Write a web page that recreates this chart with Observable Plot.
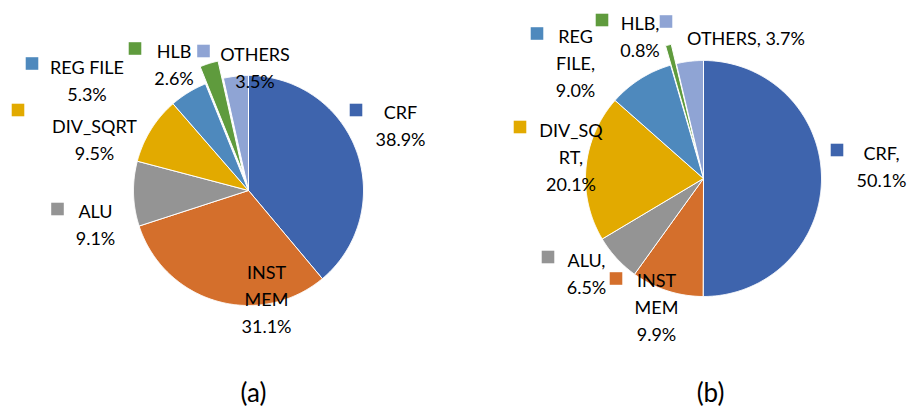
<!DOCTYPE html>
<html><head><meta charset="utf-8">
<script src="https://cdn.jsdelivr.net/npm/d3@7"></script>
<script src="https://cdn.jsdelivr.net/npm/@observablehq/plot@0.6"></script>
<style>body{margin:0;background:#fff;} svg{display:block;}</style>
</head><body><div id="chart"></div>
<script>
// ---- data ----
const categories = ["CRF", "INST MEM", "ALU", "DIV_SQRT", "REG FILE", "HLB", "OTHERS"];
const valuesA = [38.9, 31.1, 9.1, 9.5, 5.3, 2.6, 3.5];
const valuesB = [50.1, 9.9, 6.5, 20.1, 9.0, 0.8, 3.7];
const panelNames = ["(a)", "(b)"];
const explodedCategory = "HLB";

// ---- styles / layout ----
const colors = ["#3E64AD", "#D46F2C", "#949494", "#E2AA00", "#4E89BD", "#5F9B3D", "#8FA4D4"];
const W = 909, H = 410;
const FONT = "Lato, 'Open Sans', sans-serif";
const panels = [
  {name: panelNames[0], values: valuesA, cx: 248, cy: 190, r: 115, explode: 18, sep: "\n", titleX: 253,
   labels: [ // dx,dy of text block centre; sq = legend key offset; breaks = line wrap indices
     {dx: 152, dy: -66.5, sq: [107.5, -80.5], breaks: []},
     {dx: 18, dy: 107, sq: null, breaks: [4]},
     {dx: -153, dy: 32.5, sq: [-191, 18.5], breaks: []},
     {dx: -154, dy: -52.5, sq: [-230.5, -80.5], breaks: []},
     {dx: -161.5, dy: -112, sq: [-216.5, -127], breaks: []},
     {dx: -74.5, dy: -128, sq: [-113.5, -142], breaks: []},
     {dx: 6.5, dy: -125, sq: [-45, -139.5], breaks: []}
   ]},
  {name: panelNames[1], values: valuesB, cx: 703, cy: 178, r: 118, explode: 20, sep: ", ", titleX: 710,
   labels: [
     {dx: 178, dy: -13.5, sq: [133.5, -28.5], breaks: [4]},
     {dx: -47, dy: 127, sq: [-87.5, 100], breaks: [4, 8], sep: " "},
     {dx: -117, dy: 93, sq: [-155.5, 78.5], breaks: [4]},
     {dx: -132.5, dy: -23, sq: [-183.5, -51.5], breaks: [6, 9]},
     {dx: -128, dy: -117, sq: [-166.5, -145], breaks: [3, 9]},
     {dx: -63.5, dy: -143.5, sq: [-101.5, -158.5], breaks: [4]},
     {dx: 42.5, dy: -142, sq: [-37.5, -157], breaks: []}
   ]}
];

function wrap(s, breaks) {
  const out = []; let p = 0;
  for (const b of breaks) { out.push(s.slice(p, b).trim()); p = b; }
  out.push(s.slice(p).trim());
  return out.join("\n");
}

// ---- build slice polygons, labels, keys ----
const slicePts = [], labelRows = [], keyRows = [], titleRows = [];
panels.forEach((P, pi) => {
  const arcs = d3.pie().sort(null).value(d => d)(P.values);
  arcs.forEach((a, i) => {
    const cat = categories[i];
    const mid = (a.startAngle + a.endAngle) / 2;
    const off = cat === explodedCategory ? P.explode : 0;
    const ox = P.cx + off * Math.sin(mid), oy = P.cy - off * Math.cos(mid);
    const key = P.name + cat;
    slicePts.push({key, cat, x: ox, y: oy});
    const n = Math.max(2, Math.ceil((a.endAngle - a.startAngle) / (Math.PI / 360)));
    for (let k = 0; k <= n; k++) {
      const t = a.startAngle + (a.endAngle - a.startAngle) * k / n;
      slicePts.push({key, cat, x: ox + P.r * Math.sin(t), y: oy - P.r * Math.cos(t)});
    }
    slicePts.push({key, cat, x: ox, y: oy});
    const L = P.labels[i];
    const sep = L.sep ?? P.sep;
    const txt = wrap(cat + sep + d3.format(".1f")(P.values[i]) + "%", L.breaks);
    labelRows.push({text: txt, x: P.cx + L.dx, y: P.cy + L.dy});
    if (L.sq) keyRows.push({cat, x: P.cx + L.sq[0], y: P.cy + L.sq[1]});
  });
  titleRows.push({text: P.name, x: P.titleX, y: 393});
});

const chart = Plot.plot({
  width: W, height: H,
  margin: 0,
  x: {domain: [0, W], range: [0, W], axis: null},
  y: {domain: [0, H], range: [0, H], axis: null},
  color: {domain: categories, range: colors},
  style: {background: "#fff", fontFamily: FONT},
  marks: [
    Plot.line(slicePts, {x: "x", y: "y", z: "key", fill: "cat", stroke: "white", strokeWidth: 1, strokeOpacity: 1, curve: "linear"}),
    Plot.dot(keyRows, {x: "x", y: "y", fill: "cat", symbol: "square", r: 7.1, stroke: null}),
    Plot.text(labelRows, {x: "x", y: "y", text: "text", fontSize: 18, lineHeight: 1.5, lineAnchor: "middle", textAnchor: "middle", fill: "#000", fontFamily: FONT}),
    Plot.text(titleRows, {x: "x", y: "y", text: "text", fontSize: 26, lineAnchor: "middle", textAnchor: "middle", fill: "#000", fontFamily: FONT})
  ]
});
document.getElementById("chart").append(chart);
</script>
</body></html>
